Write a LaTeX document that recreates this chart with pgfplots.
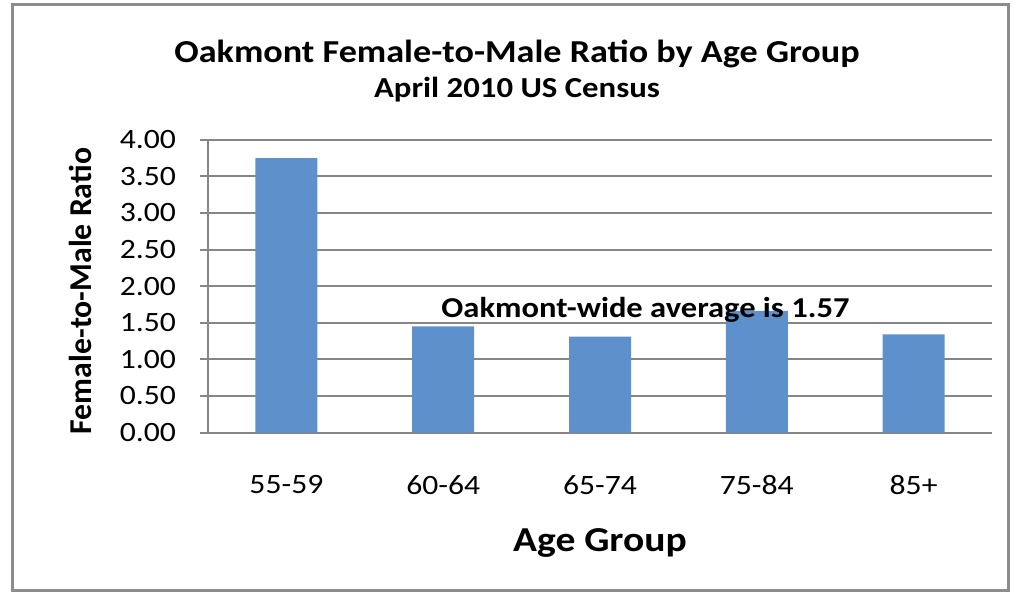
\documentclass[border=0pt]{standalone}
\usepackage{pgfplots}
\pgfplotsset{compat=1.18}
\usepackage{fontspec}
\setmainfont{Carlito}[FakeStretch=1.13]
\newfontfamily\plainfont{Carlito}
\definecolor{barblue}{RGB}{94,145,204}
\definecolor{gridgray}{RGB}{134,134,134}
\definecolor{framegray}{RGB}{140,140,140}
\begin{document}
\begin{tikzpicture}
\useasboundingbox (0,0) rectangle (507.5pt,297.5pt);
\draw[framegray, line width=1.5pt] (6pt,2.5pt) rectangle (504pt,295pt);
\node[font=\fontsize{16}{19}\selectfont\bfseries] at (258.5pt,270.5pt) {Oakmont Female-to-Male Ratio by Age Group};
\node[font=\fontsize{14.5}{17}\selectfont\bfseries] at (258.5pt,252.5pt) {April 2010 US Census};
\begin{axis}[
  at={(104pt,81.25pt)}, anchor=south west,
  scale only axis, width=392pt, height=146.4pt,
  xmin=-0.5, xmax=4.5, ymin=0, ymax=4,
  axis lines=left, axis line style={-, gridgray, line width=1pt},
  ytick={0,0.5,1,1.5,2,2.5,3,3.5,4},
  yticklabels={0.00,0.50,1.00,1.50,2.00,2.50,3.00,3.50,4.00},
  xtick={0,1,2,3,4},
  xticklabels={55-59,60-64,65-74,75-84,85+},
  minor xtick={-0.5,0.5,1.5,2.5,3.5,4.5},
  xtick style={draw=none},
  minor tick style={gridgray, line width=1pt},
  ytick style={gridgray, line width=1pt},
  tick align=outside,
  major tick length=4pt, minor tick length=4pt,
  ymajorgrids, grid style={gridgray, line width=1pt},
  tick label style={font=\fontsize{14}{16}\selectfont},
  xticklabel style={yshift=-14pt},
  yticklabel style={xshift=-8.5pt},
  xlabel={Age Group},
  ylabel={Female-to-Male Ratio},
  xlabel style={font=\fontsize{17.5}{20}\selectfont\bfseries, at={(axis description cs:0.5,-0.377)}, anchor=center},
  ylabel style={font=\plainfont\fontsize{15.9}{18}\selectfont\bfseries, at={(axis description cs:-0.163,0.483)}, anchor=center},
  ybar, bar width=31pt,
  clip=false,
]
\addplot[fill=barblue, draw=none] coordinates {(0,3.75) (1,1.45) (2,1.31) (3,1.66) (4,1.34)};
\node[font=\fontsize{14.4}{17}\selectfont\bfseries] at (axis cs:2.29,1.68) {Oakmont-wide average is 1.57};
\end{axis}
\end{tikzpicture}
\end{document}
